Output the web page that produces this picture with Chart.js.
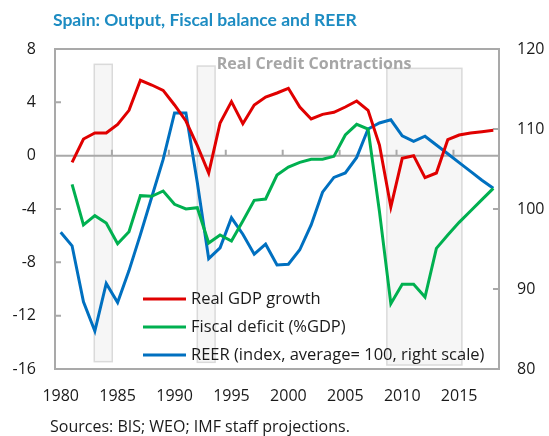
<!DOCTYPE html>
<html>
<head>
<meta charset="utf-8">
<script src="https://cdn.jsdelivr.net/npm/chart.js@4.4.1/dist/chart.umd.min.js"></script>
<style>
  html, body { margin: 0; padding: 0; background: #fff; }
  #wrap { width: 549px; height: 436px; }
</style>
</head>
<body>
<div id="wrap"><canvas id="chart"></canvas></div>
<script>
const years = ['1980','1981','1982','1983','1984','1985','1986','1987','1988','1989',
  '1990','1991','1992','1993','1994','1995','1996','1997','1998','1999',
  '2000','2001','2002','2003','2004','2005','2006','2007','2008','2009',
  '2010','2011','2012','2013','2014','2015','2016','2017','2018'];

const tickYears = ['1980','1985','1990','1995','2000','2005','2010','2015'];

// Real GDP growth, % (left scale)
const gdpGrowth = [null, -0.5, 1.25, 1.7, 1.7, 2.35, 3.4, 5.65, 5.3, 4.9,
  3.8, 2.6, 0.75, -1.3, 2.45, 4.05, 2.4, 3.8, 4.4, 4.7,
  5.05, 3.65, 2.75, 3.1, 3.25, 3.65, 4.1, 3.4, 0.8, -3.85,
  -0.2, 0.0, -1.65, -1.3, 1.2, 1.55, 1.7, 1.8, 1.9];

// Fiscal deficit, % of GDP (left scale)
const fiscalDeficit = [null, -2.15, -5.2, -4.5, -5.05, -6.6, -5.7, -3.0, -3.05, -2.65,
  -3.65, -4.0, -3.9, -6.55, -5.95, -6.4, -4.9, -3.35, -3.25, -1.45,
  -0.85, -0.5, -0.27, -0.27, -0.05, 1.55, 2.35, 2.0, -4.2, -11.1,
  -9.65, -9.65, -10.6, -6.95, -5.95, -5.0, -4.15, -3.3, -2.45];

// REER index, average = 100 (right scale)
const reer = [97.1, 95.4, 88.4, 84.75, 90.7, 88.3, 92.3, 96.8, 101.5, 106.2,
  112.0, 112.0, 103.3, 93.8, 95.15, 98.9, 96.85, 94.35, 95.6, 93.0,
  93.1, 94.9, 98.0, 102.1, 103.95, 104.5, 106.45, 110.0, 110.75, 111.15,
  109.15, 108.45, 109.1, 108.0, 106.9, 105.8, 104.7, 103.6, 102.6];

const seriesNames = ['Real GDP growth', 'Fiscal deficit (%GDP)', 'REER (index, average= 100, right scale)'];
const seriesColors = ['#e00000', '#00b050', '#0070c0'];

// credit contraction periods, in category index units (0 = 1980) and left-scale values
const creditFrom = [2.95, 12.0, 28.65];
const creditTo = [4.53, 13.56, 35.24];
const creditTop = [6.85, 6.72, 6.55];
const creditBottom = [-15.45, -15.5, -15.7];

const grey = '#a9a9a9';
const font = '"Open Sans", sans-serif';

const decor = {
  id: 'decor',
  beforeDatasetsDraw(chart) {
    const { ctx, chartArea: a, scales } = chart;
    const x = scales.x, y = scales.y, y1 = scales.y1;
    ctx.save();
    // shaded boxes
    for (let i = 0; i < creditFrom.length; i++) {
      const l = x.getPixelForValue(creditFrom[i]);
      const r = x.getPixelForValue(creditTo[i]);
      const t = y.getPixelForValue(creditTop[i]);
      const b = y.getPixelForValue(creditBottom[i]);
      ctx.fillStyle = '#f6f6f6';
      ctx.fillRect(l, t, r - l, b - t);
      ctx.strokeStyle = '#dadada';
      ctx.lineWidth = 1.5;
      ctx.strokeRect(l, t, r - l, b - t);
    }
    ctx.fillStyle = '#a6a6a6';
    ctx.font = 'bold 16px ' + font;
    ctx.textAlign = 'center';
    ctx.textBaseline = 'middle';
    ctx.fillText('Real Credit Contractions', x.getPixelForValue(22.26), y.getPixelForValue(6.85));

    // zero line and tick marks
    ctx.strokeStyle = grey;
    ctx.lineWidth = 2;
    const zy = y.getPixelForValue(0);
    ctx.beginPath();
    ctx.moveTo(a.left, zy); ctx.lineTo(a.right, zy);
    for (let k = 4.5; k < years.length - 1; k += 5) {
      const px = x.getPixelForValue(k);
      ctx.moveTo(px, zy); ctx.lineTo(px, zy - 6);
    }
    y.ticks.forEach(t => {
      const py = y.getPixelForValue(t.value);
      ctx.moveTo(a.left, py); ctx.lineTo(a.left + 6, py);
    });
    y1.ticks.forEach(t => {
      const py = y1.getPixelForValue(t.value);
      ctx.moveTo(a.right, py); ctx.lineTo(a.right - 6, py);
    });
    ctx.stroke();
    ctx.restore();
  },
  afterDraw(chart) {
    const { ctx, chartArea: a } = chart;
    ctx.save();
    ctx.strokeStyle = grey;
    ctx.lineWidth = 2;
    ctx.strokeRect(a.left, a.top, a.right - a.left, a.bottom - a.top);

    // legend
    ctx.font = '16.5px ' + font;
    ctx.textAlign = 'left';
    ctx.textBaseline = 'middle';
    seriesNames.forEach((name, i) => {
      const ly = 299 + i * 28;
      ctx.strokeStyle = seriesColors[i];
      ctx.lineWidth = 3;
      ctx.beginPath();
      ctx.moveTo(143, ly); ctx.lineTo(186, ly);
      ctx.stroke();
      ctx.fillStyle = '#1a1a1a';
      ctx.fillText(name, 191, ly);
    });

    // title and source
    ctx.fillStyle = '#1d8cc2';
    ctx.font = 'bold 17.5px Lato, sans-serif';
    ctx.fillText('Spain: Output, Fiscal balance and REER', 53, 20);
    ctx.fillStyle = '#1a1a1a';
    ctx.font = '16px ' + font;
    ctx.fillText('Sources: BIS; WEO; IMF staff projections.', 50, 427);
    ctx.restore();
  }
};

const lineSet = (label, data, color, axis) => ({
  label, data, yAxisID: axis,
  borderColor: color, backgroundColor: color,
  borderWidth: 3, pointRadius: 0, tension: 0, spanGaps: false
});

const tickFont = { family: font, size: 16 };

new Chart(document.getElementById('chart'), {
  type: 'line',
  data: {
    labels: years,
    datasets: [
      lineSet(seriesNames[0], gdpGrowth, seriesColors[0], 'y'),
      lineSet(seriesNames[1], fiscalDeficit, seriesColors[1], 'y'),
      lineSet(seriesNames[2], reer, seriesColors[2], 'y1')
    ]
  },
  options: {
    responsive: true,
    maintainAspectRatio: false,
    animation: false,
    layout: { padding: { top: 49, left: 0, right: 0, bottom: 0 } },
    plugins: { legend: { display: false }, tooltip: { enabled: false } },
    scales: {
      x: {
        type: 'category',
        offset: true,
        grid: { display: false, drawTicks: false },
        border: { display: false },
        ticks: {
          autoSkip: false, maxRotation: 0, padding: 18,
          color: '#1a1a1a', font: tickFont,
          callback: function (v, i) {
            return tickYears.includes(years[i]) ? years[i] : '';
          }
        },
        afterFit: s => { s.height = 67; }
      },
      y: {
        position: 'left', min: -16, max: 8,
        grid: { display: false, drawTicks: false },
        border: { display: false },
        ticks: { stepSize: 4, padding: 19, color: '#1a1a1a', font: tickFont },
        afterFit: s => { s.width = 55; }
      },
      y1: {
        position: 'right', min: 80, max: 120,
        grid: { display: false, drawTicks: false },
        border: { display: false },
        ticks: { stepSize: 10, padding: 18, color: '#1a1a1a', font: tickFont },
        afterFit: s => { s.width = 50; }
      }
    }
  },
  plugins: [decor]
});
</script>
</body>
</html>
